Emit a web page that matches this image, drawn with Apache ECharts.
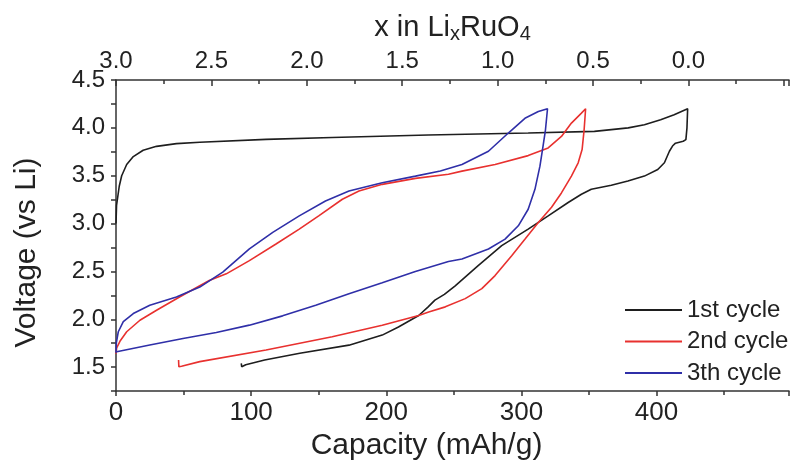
<!DOCTYPE html>
<html>
<head>
<meta charset="utf-8">
<script src="https://cdn.jsdelivr.net/npm/echarts@6/dist/echarts.min.js"></script>
<style>
  html, body { margin: 0; padding: 0; background: #fff; }
  #chart { width: 792px; height: 466px; }
</style>
</head>
<body>
<div id="chart"></div>
<script>
// capacity (mAh/g) and voltage (V vs Li), in path order (charge then discharge)
var cycle1Cap = [0, 0.4, 2.4, 4.2, 7.9, 12.8, 20.1, 30, 44.7, 62, 111, 160, 231, 305, 354, 379, 391, 403, 413, 423,
  422.5, 421.7, 419.7, 414, 411.8, 409.5, 405.8, 400.9, 391, 378.8, 366.5, 351.7, 344.4, 334.6, 319.8, 305, 285.4,
  268, 251, 243, 236, 231, 224, 209, 197, 172.4, 136, 110, 96, 93, 92.7];
var cycle1Volt = [3.0, 3.19, 3.39, 3.5, 3.617, 3.7, 3.766, 3.807, 3.835, 3.85, 3.88, 3.9, 3.925, 3.946, 3.963, 4.0, 4.033, 4.085, 4.137, 4.2,
  4.0, 3.877, 3.86, 3.84, 3.81, 3.756, 3.635, 3.565, 3.496, 3.444, 3.4, 3.358, 3.306, 3.22, 3.08, 2.942, 2.77,
  2.561, 2.35, 2.26, 2.2, 2.13, 2.04, 1.92, 1.835, 1.73, 1.645, 1.575, 1.525, 1.505, 1.54];

var cycle2Cap = [0, 0.5, 2.9, 7.9, 17.7, 30, 47, 69, 81.6, 98.7, 118.4, 135.6, 150, 167.5, 179.8, 197, 221.6, 246, 256,
  280.5, 305, 319.8, 329.6, 337, 344.4, 347.5,
  346.4, 344.9, 342, 337, 329.6, 322.3, 312.5, 302.7, 292.8, 280.5, 270.7, 258.4, 243.7, 231.4, 224, 197, 160, 111,
  62, 48.5, 46.5, 46.3];
var cycle2Volt = [1.64, 1.7, 1.77, 1.87, 1.99, 2.094, 2.233, 2.405, 2.475, 2.613, 2.787, 2.942, 3.08, 3.254, 3.34, 3.41, 3.472, 3.515, 3.548,
  3.617, 3.71, 3.79, 3.91, 4.05, 4.154, 4.2,
  3.98, 3.773, 3.635, 3.496, 3.32, 3.17, 3.012, 2.838, 2.665, 2.457, 2.32, 2.216, 2.13, 2.077, 2.04, 1.938, 1.818, 1.68,
  1.558, 1.51, 1.505, 1.575];

var cycle3Cap = [0, 0.3, 1.7, 5.4, 12.8, 25, 44.7, 62, 79, 98.7, 116, 135.6, 155, 172.4, 197, 221.6, 240, 256, 275.6,
  290.3, 302.6, 312.5, 319.3,
  317.8, 316, 313.7, 310, 305, 297.7, 287.9, 275.6, 256, 246, 221.5, 197, 172.4, 147.8, 123.3, 98.7, 74.2, 49.6, 25, 0.5, 0];
var cycle3Volt = [1.65, 1.76, 1.87, 1.975, 2.06, 2.146, 2.233, 2.337, 2.493, 2.735, 2.908, 3.08, 3.236, 3.34, 3.427, 3.496, 3.55, 3.617, 3.756,
  3.946, 4.1, 4.17, 4.2,
  3.98, 3.81, 3.6, 3.358, 3.15, 2.977, 2.838, 2.735, 2.63, 2.603, 2.5, 2.382, 2.267, 2.146, 2.036, 1.939, 1.862, 1.8, 1.731, 1.662, 1.655];

var seriesNames = ['1st cycle', '2nd cycle', '3th cycle'];
var bottomTickLabels = ['0', '100', '200', '300', '400'];
var topTickLabels = ['3.0', '2.5', '2.0', '1.5', '1.0', '0.5', '0.0'];
var leftTickLabels = ['1.5', '2.0', '2.5', '3.0', '3.5', '4.0', '4.5'];

var capPerLi = 141.2; // mAh/g per Li, x = 3 - cap / capPerLi
var font = 'Liberation Sans, Arial, sans-serif';

function pairs(xs, ys) {
  return xs.map(function (x, i) { return [x, ys[i]]; });
}

var chart = echarts.init(document.getElementById('chart'), null, { renderer: 'canvas' });

var axisLine = { lineStyle: { color: '#333', width: 1.5 } };

var option = {
  animation: false,
  backgroundColor: '#fff',
  textStyle: { fontFamily: font },
  grid: { left: 116, right: 0, top: 80, bottom: 73, containLabel: false },
  legend: {
    data: seriesNames,
    orient: 'vertical',
    left: 620,
    top: 293,
    icon: 'rect',
    itemWidth: 57,
    itemHeight: 2,
    itemGap: 7.5,
    textStyle: { fontSize: 24, color: '#222', lineHeight: 24, fontFamily: font }
  },
  xAxis: [
    {
      type: 'value',
      position: 'bottom',
      min: 0,
      max: 498,
      interval: 100,
      axisLine: axisLine,
      axisTick: { length: 5, lineStyle: { color: '#333', width: 1.5 } },
      minorTick: { show: true, splitNumber: 2, length: 4, lineStyle: { color: '#333', width: 1.5 } },
      splitLine: { show: false },
      axisLabel: {
        margin: 9, fontSize: 26, color: '#222', fontFamily: font,
        formatter: function (v, i) { return bottomTickLabels[i] || ''; }
      },
      name: 'Capacity (mAh/g)',
      nameLocation: 'middle',
      nameGap: 38,
      nameTextStyle: { fontSize: 30, color: '#222', fontFamily: font, padding: [0, 52, 0, 0] }
    },
    {
      type: 'value',
      position: 'top',
      min: 0,
      max: 498,
      interval: capPerLi / 2,
      axisLine: axisLine,
      axisTick: { inside: true, length: 6, lineStyle: { color: '#333', width: 1.5 } },
      minorTick: { show: true, splitNumber: 2, length: 4, lineStyle: { color: '#333', width: 1.5 } },
      splitLine: { show: false },
      axisLabel: {
        margin: 7, fontSize: 24, color: '#222', fontFamily: font,
        formatter: function (v, i) { return topTickLabels[i] || ''; }
      },
      name: '{a|x in Li}{s|x}{a|RuO}{s|4}',
      nameLocation: 'middle',
      nameGap: 33,
      nameTextStyle: {
        color: '#222',
        rich: {
          a: { fontSize: 29, color: '#222', fontFamily: font },
          s: { fontSize: 20, color: '#222', fontFamily: font, padding: [12, 0, 0, 0] }
        }
      }
    }
  ],
  yAxis: {
    type: 'value',
    min: 1.25,
    max: 4.5,
    interval: 0.25,
    axisLine: axisLine,
    axisTick: { length: 5, lineStyle: { color: '#333', width: 1.5 } },
    splitLine: { show: false },
    axisLabel: {
      margin: 11, fontSize: 24, color: '#222', fontFamily: font,
      formatter: function (v, i) { return i % 2 === 1 ? (leftTickLabels[(i - 1) / 2] || '') : ''; }
    },
    name: 'Voltage (vs Li)',
    nameLocation: 'middle',
    nameGap: 74,
    nameTextStyle: { fontSize: 30, color: '#222', fontFamily: font, padding: [0, 34, 0, 0] }
  },
  series: [
    { name: seriesNames[0], type: 'line', data: pairs(cycle1Cap, cycle1Volt), symbol: 'none',
      lineStyle: { color: '#1e1e1e', width: 1.6 }, itemStyle: { color: '#1e1e1e' } },
    { name: seriesNames[1], type: 'line', data: pairs(cycle2Cap, cycle2Volt), symbol: 'none',
      lineStyle: { color: '#e8312f', width: 1.6 }, itemStyle: { color: '#e8312f' } },
    { name: seriesNames[2], type: 'line', data: pairs(cycle3Cap, cycle3Volt), symbol: 'none',
      lineStyle: { color: '#2f2fa8', width: 1.6 }, itemStyle: { color: '#2f2fa8' } }
  ]
};

chart.setOption(option);
</script>
</body>
</html>
